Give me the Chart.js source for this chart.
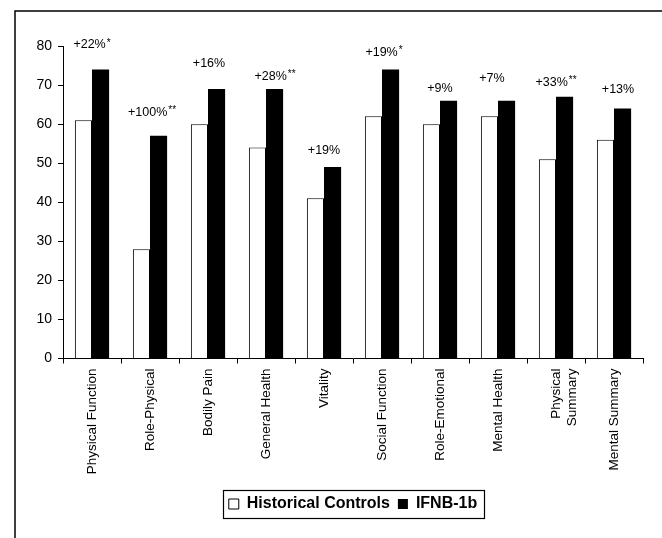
<!DOCTYPE html>
<html>
<head>
<meta charset="utf-8">
<title>SF-36 scores: Historical Controls vs IFNB-1b</title>
<script src="https://cdn.jsdelivr.net/npm/chart.js@4.4.1/dist/chart.umd.min.js"></script>
<style>
  html, body { margin: 0; padding: 0; background: #fff; }
  canvas { display: block; }
</style>
</head>
<body>
<canvas id="chart" width="662" height="538"></canvas>
<script>
// SF-36 domains and summary scores
const categories = [
  'Physical Function', 'Role-Physical', 'Bodily Pain', 'General Health', 'Vitality',
  'Social Function', 'Role-Emotional', 'Mental Health', ['Physical', 'Summary'], 'Mental Summary'
];
const historicalControls = [61, 28, 60, 54, 41, 62, 60, 62, 51, 56];
const ifnb1b = [74, 57, 69, 69, 49, 74, 66, 66, 67, 64];

// Percent change of IFNB-1b over controls, with significance markers
const changeLabels = ['+22%', '+100%', '+16%', '+28%', '+19%', '+19%', '+9%', '+7%', '+33%', '+13%'];
const significance = ['*', '**', '', '**', '', '*', '', '', '**', ''];

const FONT = '"Liberation Sans", Arial, Helvetica, sans-serif';

// Open frame along the top and left edges
const framePlugin = {
  id: 'frame',
  beforeDraw(chart) {
    const { ctx, width, height } = chart;
    ctx.save();
    ctx.fillStyle = '#fff';
    ctx.fillRect(0, 0, width, height);
    ctx.strokeStyle = '#000';
    ctx.lineWidth = 1.5;
    ctx.beginPath();
    ctx.moveTo(15, height);
    ctx.lineTo(15, 11);
    ctx.lineTo(width, 11);
    ctx.stroke();
    ctx.restore();
  }
};

// Percent-change annotations above each pair of bars
const changeLabelPlugin = {
  id: 'changeLabels',
  afterDatasetsDraw(chart, args, opts) {
    const { ctx } = chart;
    const meta = chart.getDatasetMeta(1);
    const xs = chart.scales.x;
    ctx.save();
    ctx.fillStyle = '#000';
    ctx.textBaseline = 'middle';
    ctx.textAlign = 'left';
    changeLabels.forEach((txt, i) => {
      const bar = meta.data[i];
      const cx = xs.getPixelForValue(i) + (opts.shift[i] || 0);
      const cy = bar.y - opts.lift[i];
      ctx.font = '12.5px ' + FONT;
      const w1 = ctx.measureText(txt).width;
      const star = significance[i];
      ctx.font = '10px ' + FONT;
      const w2 = star ? ctx.measureText(star).width + 1 : 0;
      const left = cx - (w1 + w2) / 2;
      ctx.font = '12.5px ' + FONT;
      ctx.fillText(txt, left, cy);
      if (star) {
        ctx.font = '10px ' + FONT;
        ctx.fillText(star, left + w1 + 1, cy - 2);
      }
    });
    ctx.restore();
  }
};

// Thin rectangle around the legend entries
const legendBoxPlugin = {
  id: 'legendBox',
  afterDraw(chart) {
    const lg = chart.legend;
    if (!lg || !lg.legendHitBoxes || !lg.legendHitBoxes.length) return;
    const hb = lg.legendHitBoxes;
    let l = Infinity, r = -Infinity, t = Infinity, b = -Infinity;
    hb.forEach(h => {
      l = Math.min(l, h.left);
      r = Math.max(r, h.left + h.width);
      t = Math.min(t, h.top);
      b = Math.max(b, h.top + h.height);
    });
    const { ctx } = chart;
    ctx.save();
    ctx.strokeStyle = '#000';
    ctx.lineWidth = 1.2;
    ctx.strokeRect(Math.round(l - 6) + 0.5, Math.round(t - 6) + 0.5, Math.round(r - l + 13), Math.round(b - t + 12));
    ctx.restore();
  }
};

new Chart(document.getElementById('chart'), {
  type: 'bar',
  data: {
    labels: categories,
    datasets: [
      {
        label: 'Historical Controls',
        data: historicalControls,
        backgroundColor: '#fff',
        borderColor: '#000',
        borderWidth: 1
      },
      {
        label: 'IFNB-1b',
        data: ifnb1b,
        backgroundColor: '#000',
        borderColor: '#000',
        borderWidth: 0
      }
    ]
  },
  options: {
    responsive: false,
    devicePixelRatio: 1,
    animation: false,
    events: [],
    categoryPercentage: 0.59,
    barPercentage: 1.0,
    layout: { padding: { left: 0, right: 19, top: 46, bottom: 16 } },
    scales: {
      x: {
        offset: true,
        grid: { display: true, drawOnChartArea: false, drawTicks: true, tickLength: 5, color: '#000', lineWidth: 1 },
        border: { display: true, color: '#000', width: 1 },
        ticks: {
          color: '#000',
          font: { family: FONT, size: 13.5 },
          minRotation: 90,
          maxRotation: 90,
          autoSkip: false,
          padding: 5
        },
        afterFit(s) { s.height = 129.5; }
      },
      y: {
        min: 0,
        max: 80,
        grid: { display: true, drawOnChartArea: false, drawTicks: true, tickLength: 5, color: '#000', lineWidth: 1 },
        border: { display: true, color: '#000', width: 1 },
        ticks: {
          stepSize: 10,
          color: '#000',
          font: { family: FONT, size: 14 },
          padding: 6
        },
        afterFit(s) { s.width = 63; }
      }
    },
    plugins: {
      legend: {
        position: 'bottom',
        fullSize: false,
        labels: {
          color: '#000',
          font: { family: FONT, size: 16, weight: 'bold' },
          boxWidth: 10,
          boxHeight: 10,
          padding: 8
        }
      },
      tooltip: { enabled: false },
      changeLabels: {
        lift: [24.6, 23.6, 25.4, 12.7, 16.3, 16.7, 12, 22.5, 14.3, 18.5],
        shift: [0, 2, 1, 9, 0, 2, 0, -6, 0, 4]
      }
    }
  },
  plugins: [framePlugin, changeLabelPlugin, legendBoxPlugin]
});
</script>
</body>
</html>
